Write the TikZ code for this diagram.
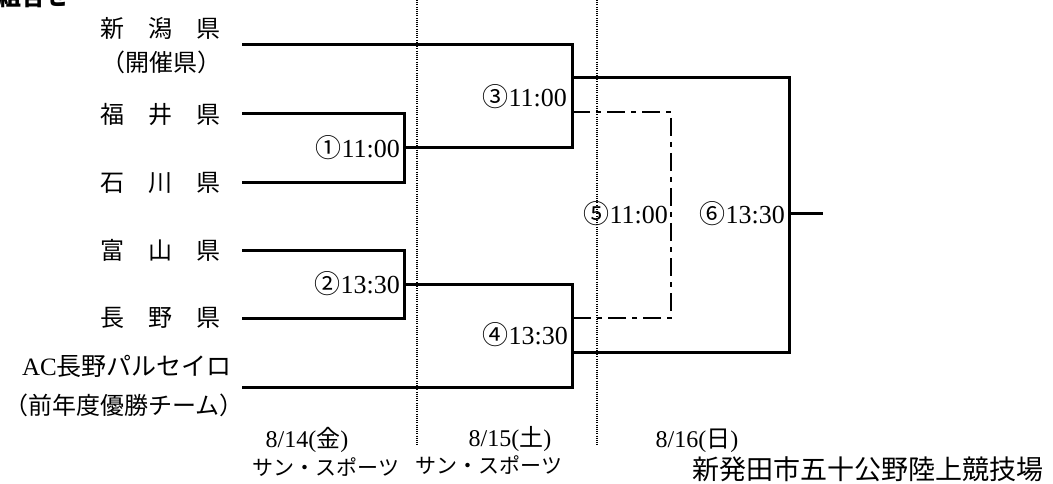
\documentclass[tikz,border=0pt]{standalone}
\usepackage{fontspec}
\setmainfont{Liberation Serif}
\newfontfamily\jp{Noto Sans CJK JP}
\usetikzlibrary{positioning}

\begin{document}
\begin{tikzpicture}[
  x=1pt, y=-1pt,
  team/.style={inner sep=0pt, font=\fontsize{24}{26}\selectfont\jp},
  match/.style={inner sep=0pt, font=\fontsize{26}{28}\selectfont},
  date/.style={inner sep=0pt, font=\fontsize{24}{26}\selectfont},
  venue/.style={inner sep=0pt, font=\fontsize{21}{23}\selectfont\jp},
  wire/.style={line width=3pt, line join=miter},
  loser/.style={line width=2.4pt, line join=miter, dash pattern=on 18pt off 6pt on 5pt off 6pt},
  daysep/.style={line width=1.1pt, dash pattern=on 1pt off 1.2pt},
]
\useasboundingbox (0,0) rectangle (1053,484);
\clip (0,0) rectangle (1053,484);

\node[anchor=south east, inner sep=0pt, font=\fontsize{24}{26}\selectfont\jp\bfseries] (title) at (70,8) {組合せ};

\node[team] (niigata) at (160,28) {新　潟　県};
\node[team] (host) at (161,62) {（開催県）};
\node[team] (fukui) at (160,115) {福　井　県};
\node[team] (ishikawa) at (160,183) {石　川　県};
\node[team] (toyama) at (160,250) {富　山　県};
\node[team] (nagano) at (160,318) {長　野　県};
\node[team, font=\fontsize{25}{27}\selectfont] (parceiro) at (127,366) {AC{\jp 長野パルセイロ}};
\node[team] (champion) at (124,405) {（前年度優勝チーム）};

\coordinate (p1) at (242,45);
\coordinate (p2) at (242,114);
\coordinate (p3) at (242,183);
\coordinate (p4) at (242,250);
\coordinate (p5) at (242,318);
\coordinate (p6) at (242,387);
\coordinate (r1) at (404,148);
\coordinate (r2) at (404,284);
\coordinate (r3) at (572,78);
\coordinate (r3l) at (572,112);
\coordinate (r4) at (572,352);
\coordinate (r4l) at (572,318);
\coordinate (r5) at (671,214);
\coordinate (r6) at (789,214);
\coordinate (final) at (823,214);

\coordinate (d1top) at (417,0);
\coordinate (d1bot) at (417,446);
\coordinate (d2top) at (597,0);
\coordinate (d2bot) at (597,446);

\draw[daysep] (d1top) -- (d1bot);
\draw[daysep] (d2top) -- (d2bot);

\draw[wire] (p2) -| (r1) |- (p3);
\draw[wire] (p4) -| (r2) |- (p5);
\draw[wire] (p1) -| (r3) |- (r1);
\draw[wire] (r2) -| (r4) |- (p6);
\draw[wire] (r3) -| (r6) |- (r4);
\draw[wire] (r6) -- (final);
\draw[loser] (r3l) -| (r5) |- (r4l);

\node[match, left=4pt of r1] (m1) {{\jp ①}11:00};
\node[match, left=4pt of r2] (m2) {{\jp ②}13:30};
\node[match, anchor=east] (m3) at (567,97) {{\jp ③}11:00};
\node[match, anchor=east] (m4) at (568,335) {{\jp ④}13:30};
\node[match, left=3pt of r5] (m5) {{\jp ⑤}11:00};
\node[match, left=4pt of r6] (m6) {{\jp ⑥}13:30};

\node[date] (day1) at (307,440) {8/14({\jp 金})};
\node[date] (day2) at (510,439) {8/15({\jp 土})};
\node[date] (day3) at (697,441) {8/16({\jp 日})};
\node[venue] (venue1) at (326,467) {サン・スポーツ};
\node[venue] (venue2) at (489,465) {サン・スポーツ};
\node[venue, font=\fontsize{27}{29}\selectfont\jp] (venue3) at (868,469) {新発田市五十公野陸上競技場};
\end{tikzpicture}
\end{document}
